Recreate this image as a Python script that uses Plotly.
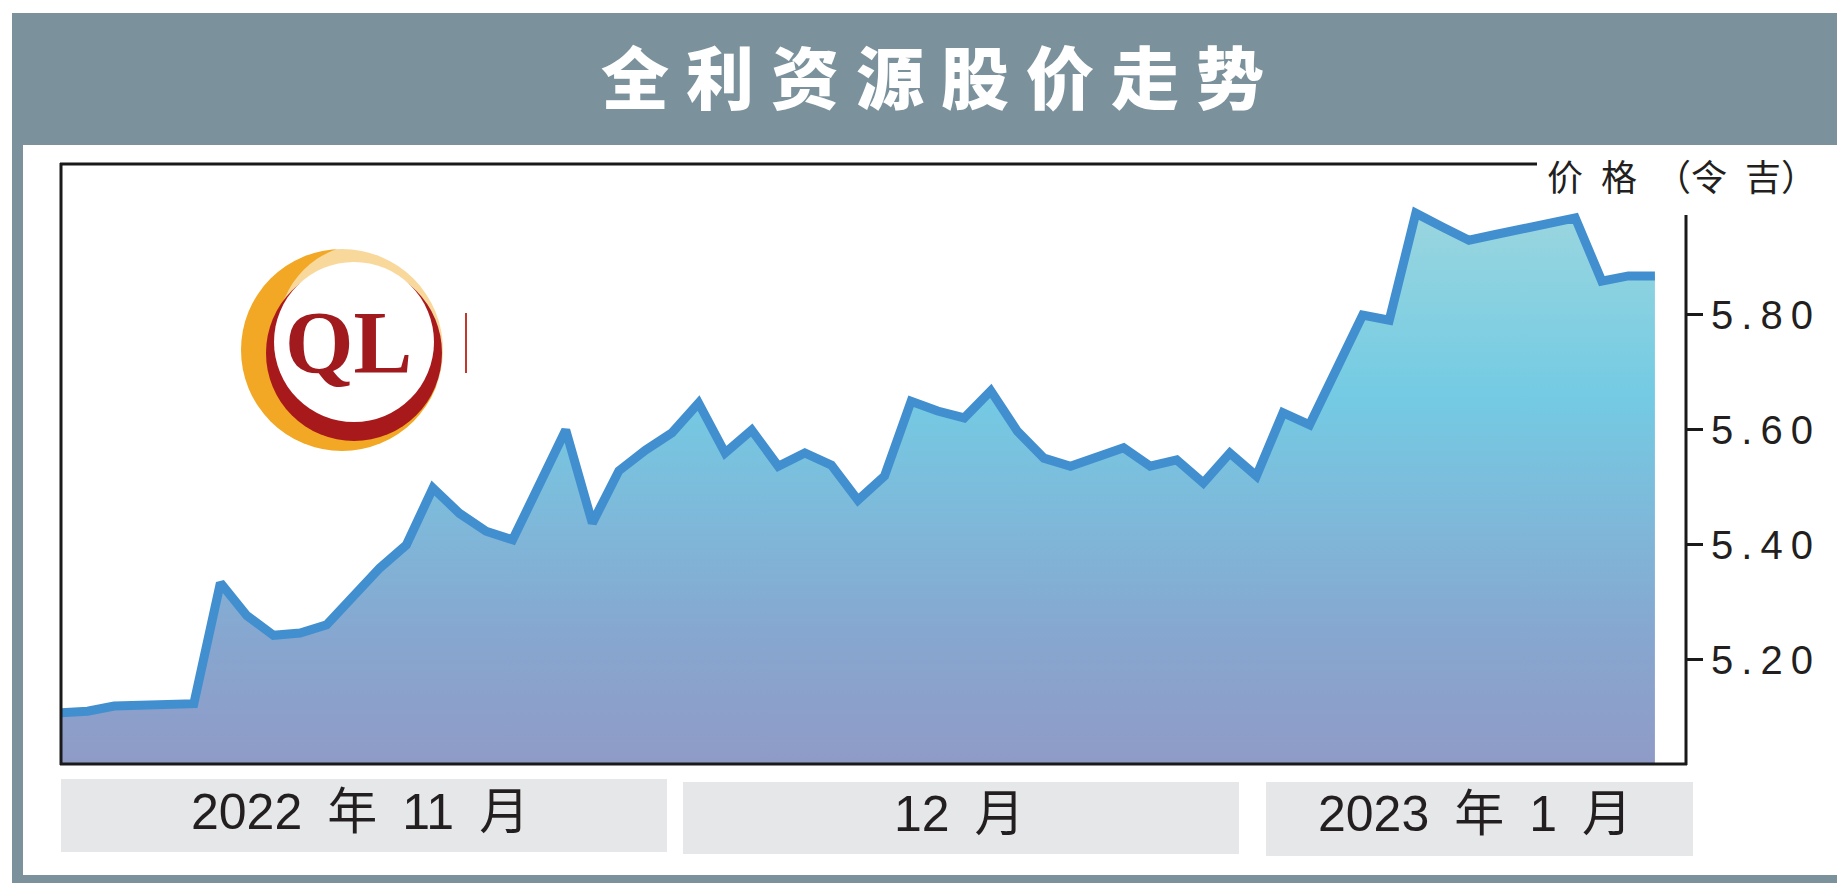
import plotly.graph_objects as go

W, H = 1845, 883

# trading day index counted from 1 Nov 2022, closing price (RM)
day = list(range(61))
price = [5.108, 5.111, 5.120, 5.121, 5.122, 5.124, 5.334, 5.277, 5.243, 5.247,
         5.261, 5.308, 5.360, 5.400, 5.499, 5.455, 5.424, 5.409, 5.505, 5.600,
         5.438, 5.529, 5.565, 5.595, 5.647, 5.560, 5.600, 5.537, 5.560, 5.539,
         5.478, 5.520, 5.650, 5.633, 5.621, 5.668, 5.598, 5.551, 5.537, 5.551,
         5.569, 5.537, 5.548, 5.508, 5.560, 5.520, 5.630, 5.609, 5.705, 5.800,
         5.791, 5.977, 5.953, 5.930, 5.940, 5.950, 5.960, 5.969, 5.859, 5.868,
         5.868]

tick_vals = [5.20, 5.40, 5.60, 5.80]
tick_text = ["5.20", "5.40", "5.60", "5.80"]

title_text = "全利资源股价走势"
unit_text = "价\u2002格\u2002（令\u2002吉）"
month_labels = ["2022\u2002年\u200211\u2002月", "12\u2002月", "2023\u2002年\u20021\u2002月"]


def px(x):
    return x / W


def py(y):
    return 1 - y / H


FRAME = "#7b929c"
INK = "#231f20"

fig = go.Figure()

fig.add_trace(go.Scatter(
    x=day, y=price,
    mode="lines",
    line=dict(color="#428fd0", width=9),
    fill="tozeroy",
    fillgradient=dict(
        type="vertical",
        start=5.02, stop=5.98,
        colorscale=[[0, "#8f9bc7"], [0.22, "#87a6cf"], [0.40, "#80b5d8"],
                    [0.67, "#74cbe3"], [1, "#9ad6df"]]),
    hoverinfo="skip",
    showlegend=False,
))

shapes = []
# grey frame and white panel
shapes.append(dict(type="rect", xref="paper", yref="paper", layer="below",
                   x0=px(4), x1=px(1845), y0=py(878), y1=py(5),
                   fillcolor=FRAME, line=dict(width=0)))
shapes.append(dict(type="rect", xref="paper", yref="paper", layer="below",
                   x0=px(15), x1=px(1832), y0=py(867), y1=py(137),
                   fillcolor="white", line=dict(width=0)))

# month boxes
boxes = [(53, 659, 771, 844), (675, 1231, 774, 846), (1258, 1685, 774, 848)]
for x0, x1, y0, y1 in boxes:
    shapes.append(dict(type="rect", xref="paper", yref="paper", layer="below",
                       x0=px(x0), x1=px(x1), y0=py(y1), y1=py(y0),
                       fillcolor="#e6e7e8", line=dict(width=0)))

# white patch behind unit label
shapes.append(dict(type="rect", xref="paper", yref="paper", layer="above",
                   x0=px(1530), x1=px(1690), y0=py(203), y1=py(150),
                   fillcolor="white", line=dict(width=0)))

# plot borders
edge = dict(color="#1a1a1a", width=3)
shapes.append(dict(type="line", xref="paper", yref="paper", layer="above",
                   x0=px(53), x1=px(53), y0=py(757), y1=py(155), line=edge))
shapes.append(dict(type="line", xref="paper", yref="paper", layer="above",
                   x0=px(52), x1=px(1679), y0=py(756), y1=py(756), line=edge))
shapes.append(dict(type="line", xref="paper", yref="paper", layer="above",
                   x0=px(52), x1=px(1529), y0=py(156), y1=py(156), line=edge))
shapes.append(dict(type="line", xref="paper", yref="paper", layer="above",
                   x0=px(1678), x1=px(1678), y0=py(757), y1=py(207), line=edge))

# QL logo
shapes.append(dict(type="rect", xref="paper", yref="paper", layer="above",
                   x0=px(220), x1=px(458), y0=py(448), y1=py(232),
                   fillcolor="white", line=dict(width=0)))


def circle(cx, cy, r, color, opacity=1):
    return dict(type="circle", xref="paper", yref="paper", layer="above",
                x0=px(cx - r), x1=px(cx + r), y0=py(cy + r), y1=py(cy - r),
                fillcolor=color, opacity=opacity, line=dict(width=0))


shapes.append(circle(334, 342, 101, "#f2a825"))
shapes.append(circle(358, 324, 88, "white", 0.55))
shapes.append(circle(346, 345, 88, "#a8191c"))
shapes.append(circle(346, 334, 80, "white"))
shapes.append(dict(type="line", xref="paper", yref="paper", layer="above",
                   x0=px(458), x1=px(458), y0=py(365), y1=py(305),
                   line=dict(color="#c0392b", width=2)))

annotations = [
    dict(text="\u2005".join(title_text),
         x=px(924), y=py(66), xref="paper", yref="paper", showarrow=False,
         xanchor="center", yanchor="middle",
         font=dict(family="Noto Sans CJK SC", size=68, color="white", weight=900)),
    dict(text=unit_text, x=px(1674), y=py(167), xref="paper", yref="paper",
         showarrow=False, xanchor="center", yanchor="middle",
         font=dict(family="Noto Sans CJK SC", size=36, color=INK)),
    dict(text="QL", x=px(340), y=py(334), xref="paper", yref="paper",
         showarrow=False, xanchor="center", yanchor="middle",
         font=dict(family="Liberation Serif", size=88, color="#a01a1e", weight="bold")),
]

label_pos = [(352, 804), (951, 806), (1467, 806)]
for text, (lx, ly) in zip(month_labels, label_pos):
    annotations.append(dict(text=text, x=px(lx), y=py(ly), xref="paper", yref="paper",
                            showarrow=False, xanchor="center", yanchor="middle",
                            font=dict(family="Liberation Sans, Noto Sans CJK SC",
                                      size=50, color=INK)))

fig.update_layout(
    width=W, height=H,
    margin=dict(l=0, r=0, t=0, b=0),
    paper_bgcolor="white",
    plot_bgcolor="#fbfbfb",
    shapes=shapes,
    annotations=annotations,
    hovermode=False,
    xaxis=dict(domain=[px(53), px(1678)], range=[0, 61.17],
               showgrid=False, zeroline=False, showticklabels=False, ticks=""),
    yaxis=dict(domain=[py(756), py(156)], range=[5.0191, 6.0626], side="right",
               showgrid=False, zeroline=False,
               tickvals=tick_vals,
               ticktext=["\u2009".join(t) for t in tick_text],
               ticks="outside", ticklen=16, tickwidth=3, tickcolor="#1a1a1a",
               tickfont=dict(family="Liberation Sans", size=40, color=INK)),
)

fig.write_html("out.html", config={"displayModeBar": False})
